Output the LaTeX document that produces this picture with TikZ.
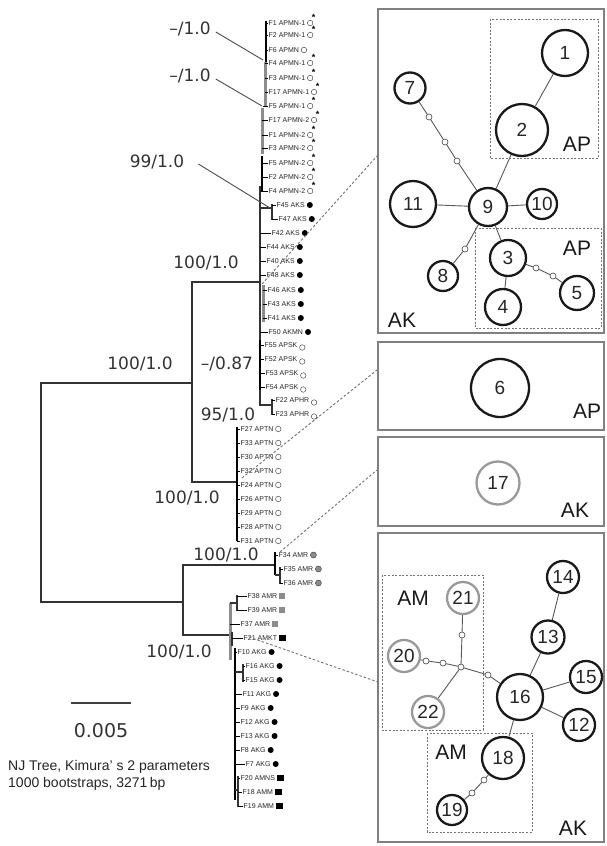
\documentclass[tikz,border=0pt]{standalone}
\usepackage{fontspec}
\setmainfont{Liberation Sans}
\newfontfamily\dvs{DejaVu Sans}
\usetikzlibrary{positioning}
\begin{document}
\begin{tikzpicture}[x=1pt,y=-1pt,
  treeline/.style={line width=1.3pt, draw=black!80},
  combk/.style={line width=2.4pt, draw=black},
  combg/.style={line width=3pt, draw=black!45},
  blab/.style={font=\dvs\fontsize{17}{17}\selectfont, text=black!80, inner sep=1pt},
  leaf/.style={font=\fontsize{7}{7}\selectfont, inner sep=0.5pt, anchor=west, text=black!85},
  oc/.style={circle, draw=black!70, line width=0.5pt, minimum size=5.5pt, inner sep=0pt},
  ocl/.style={oc, yshift=-2.5pt},
  oca/.style={oc, label={[inner sep=0pt, font=\fontsize{9}{9}\selectfont\bfseries]60:*}},
  bd/.style={circle, fill=black, minimum size=6pt, inner sep=0pt},
  gd/.style={circle, fill=black!45, draw=black!70, line width=0.5pt, minimum size=6pt, inner sep=0pt},
  gs/.style={rectangle, fill=black!45, minimum size=6pt, inner sep=0pt},
  bs/.style={rectangle, fill=black, minimum size=6.5pt, inner sep=0pt},
  ptr/.style={line width=0.9pt, draw=black!70},
  zoomline/.style={dash pattern=on 2.5pt off 2pt, line width=0.9pt, draw=black!55},
  panel/.style={draw=black!50, line width=1.8pt, minimum width=226pt, inner sep=0pt},
  grp/.style={draw=black!55, dash pattern=on 2pt off 1.6pt, line width=0.9pt},
  hap/.style={circle, draw=black!90, line width=2.3pt, inner sep=0pt, font=\fontsize{19}{19}\selectfont, text=black!85},
  haq/.style={hap, draw=black!40},
  mut/.style={circle, draw=black!75, line width=0.6pt, fill=white, minimum size=6pt, inner sep=0pt},
  edgeln/.style={line width=0.9pt, draw=black!65},
  plab/.style={font=\fontsize{21}{21}\selectfont, inner sep=0pt, text=black!90},
  captext/.style={font=\fontsize{14}{14}\selectfont, text=black!85, anchor=west, inner sep=0pt},
]
\useasboundingbox (0,0) rectangle (606,846);
\fill[white] (0,0) rectangle (606,846);

% ---------------- tree skeleton ----------------
\draw[treeline] (192,383) -- (41,383) -- (41,602) -- (183,602);
\draw[treeline] (260,282) -- (192,282) -- (192,482) -- (237,482);
\draw[treeline] (275,565) -- (183,565) -- (183,635) -- (230,635);
% top comb
\draw[combk] (266,21) -- (266,62);
\draw[combg] (265,62) -- (265,106);
\draw[combg] (262,108) -- (262,154);
\draw[combk] (262,156) -- (262,192);
\draw[treeline] (260,186) -- (260,405) -- (272,405);
\draw[combg] (263,285) -- (263,322);
\draw[combk] (260,340) -- (260,390);
\draw[treeline] (260,208) -- (272,208);
\draw[treeline] (272,204) -- (272,220);
\draw[treeline] (272,399) -- (272,415);
% APTN comb
\draw[combk] (237,427) -- (237,541);
% AMR fork
\draw[combk] (275,552) -- (275,575);
\draw[treeline] (275,575) -- (280,575);
\draw[treeline] (280,567) -- (280,584);
% bottom comb
\draw[combg] (230,603) -- (230,660);
\draw[treeline] (230,603) -- (237,603);
\draw[treeline] (237,595) -- (237,611);
\draw[treeline] (232,632) -- (232,646);
\draw[combk] (235,648) -- (235,800);
\draw[treeline] (235,672) -- (243,672);
\draw[treeline] (243,664) -- (243,682);
\draw[treeline] (235,790) -- (238,790);
\draw[treeline] (238,776) -- (238,807);

% ---------------- leaves ----------------
\foreach \y/\c/\x/\t/\m [count=\i] in {
23/266/268/F1 APMN-1/oca,
35/266/268/F2 APMN-1/oca,
50/266/268/F6 APMN/oc,
63/265/268/F4 APMN-1/oca,
78/265/268/F3 APMN-1/oca,
92/265/268/F17 APMN-1/oca,
106/263/268/F5 APMN-1/oca,
120/262/268/F17 APMN-2/oca,
135/262/268/F1 APMN-2/oca,
148/262/268/F3 APMN-2/oca,
163/262/268/F5 APMN-2/oca,
177/262/268/F2 APMN-2/oca,
191/262/268/F4 APMN-2/oca,
205/272/276/F45 AKS/bd,
219/272/278/F47 AKS/bd,
233/260/271/F42 AKS/bd,
247/260/266/F44 AKS/bd,
261/260/266/F40 AKS/bd,
275/260/266/F48 AKS/bd,
290/263/267/F46 AKS/bd,
304/263/267/F43 AKS/bd,
318/263/267/F41 AKS/bd,
332/260/268/F50 AKMN/bd,
345/260/264/F55 APSK/ocl,
359/260/264/F52 APSK/ocl,
373/260/265/F53 APSK/ocl,
387/260/265/F54 APSK/ocl,
400/272/275/F22 APHR/ocl,
414/272/275/F23 APHR/ocl,
429/237/240/F27 APTN/oc,
443/237/240/F33 APTN/oc,
457/237/240/F30 APTN/oc,
471/237/240/F32 APTN/oc,
485/237/240/F24 APTN/oc,
499/237/240/F26 APTN/oc,
513/237/240/F29 APTN/oc,
527/237/240/F28 APTN/oc,
541/237/240/F31 APTN/oc,
555/275/278/F34 AMR/gd,
569/280/283/F35 AMR/gd,
583/280/283/F36 AMR/gd,
596/237/247/F38 AMR/gs,
610/237/247/F39 AMR/gs,
624/230/240/F37 AMR/gs,
638/232/243/F21 AMKT/bs,
652/235/237/F10 AKG/bd,
666/243/245/F16 AKG/bd,
680/243/245/F15 AKG/bd,
694/235/242/F11 AKG/bd,
708/235/240/F9 AKG/bd,
722/235/240/F12 AKG/bd,
736/235/240/F13 AKG/bd,
750/235/240/F8 AKG/bd,
764/235/245/F7 AKG/bd,
778/238/240/F20 AMNS/bs,
792/238/242/F18 AMM/bs,
806/238/243/F19 AMM/bs}{
  \node[leaf] (L\i) at (\x,\y) {\t};
  \edef\tmp{\noexpand\node[\m, right=1.2pt of L\i] (M\i) {};}\tmp
  \draw[line width=0.7pt] (\c,\y) -- (L\i.west);
}

% ---------------- support labels ----------------
\node[blab] (t1) at (190,29) {–/1.0};
\node[blab] (t2) at (190,76) {–/1.0};
\node[blab] (t3) at (157,162) {99/1.0};
\node[blab] (t4) at (206,263) {100/1.0};
\node[blab] (t5) at (140,364) {100/1.0};
\node[blab] (t6) at (227,364) {–/0.87};
\node[blab] (t7) at (228,415) {95/1.0};
\node[blab] (t8) at (187,498) {100/1.0};
\node[blab] (t9) at (226,555) {100/1.0};
\node[blab] (t10) at (179,652) {100/1.0};
\coordinate (p1) at (263,60);
\coordinate (p2) at (262,106);
\coordinate (p3) at (270,208);
\draw[ptr] ([xshift=4pt,yshift=-3pt]t1.east) -- (p1);
\draw[ptr] ([xshift=4pt,yshift=-3pt]t2.east) -- (p2);
\draw[ptr] ([xshift=13pt,yshift=-2pt]t3.east) -- (p3);

% scale bar and caption
\coordinate (s1) at (71,703);
\coordinate (s2) at (131,703);
\draw[line width=1.8pt, draw=black!75] (s1) -- (s2);
\node[font=\dvs\fontsize{19}{19}\selectfont, text=black!80] (sc) at (101,731) {0.005};
\node[captext] (c1) at (8,767) {NJ Tree, Kimura’ s 2 parameters};
\node[captext] (c2) at (8,784) {1000 bootstraps, 3271\,bp};

% ---------------- panels ----------------
\node[panel, minimum height=324pt] (P1) at (491,171) {};
\node[panel, minimum height=88pt] (P2) at (491,386) {};
\node[panel, minimum height=89pt] (P3) at (491,481.5) {};
\node[panel, minimum height=309pt] (P4) at (491,687.5) {};

% zoom connectors
\coordinate (d1s) at (262,284); \coordinate (d1e) at (378,155);
\coordinate (d2s) at (242,478); \coordinate (d2e) at (377,370);
\coordinate (d3s) at (280,552); \coordinate (d3e) at (377,470);
\coordinate (d4s) at (249,637); \coordinate (d4e) at (378,682);
\draw[zoomline] (d1s) -- (d1e);
\draw[zoomline] (d2s) -- (d2e);
\draw[zoomline] (d3s) -- (d3e);
\draw[zoomline] (d4s) -- (d4e);

% ---------------- panel 1 ----------------
\draw[grp] (490,19) rectangle (598,158);
\draw[grp] (475,228) rectangle (601,328);
\node[hap, minimum size=46pt] (n1) at (565,53) {1};
\node[hap, minimum size=52pt] (n2) at (522,130) {2};
\node[hap, minimum size=31pt] (n7) at (410,88) {7};
\node[hap, minimum size=38pt] (n9) at (488,207) {9};
\node[hap, minimum size=46pt] (n11) at (413,204) {11};
\node[hap, minimum size=30pt] (n10) at (542,204) {10};
\node[hap, minimum size=36pt] (n3) at (508,258) {3};
\node[hap, minimum size=36pt] (n4) at (503,307) {4};
\node[hap, minimum size=34pt] (n5) at (577,293) {5};
\node[hap, minimum size=30pt] (n8) at (443,276) {8};
\node[mut] (m1) at (429,117) {};
\node[mut] (m2) at (445,142) {};
\node[mut] (m3) at (457,161) {};
\node[mut] (m4) at (536,268) {};
\node[mut] (m5) at (553,276) {};
\node[mut] (m6) at (465,249) {};
\draw[edgeln] (n1) -- (n2);
\draw[edgeln] (n2) -- (n9);
\draw[edgeln] (n7) -- (m1) -- (m2) -- (m3) -- (n9);
\draw[edgeln] (n11) -- (n9);
\draw[edgeln] (n9) -- (n10);
\draw[edgeln] (n9) -- (n3);
\draw[edgeln] (n3) -- (n4);
\draw[edgeln] (n3) -- (m4) -- (m5) -- (n5);
\draw[edgeln] (n9) -- (m6) -- (n8);
\node[plab] (a1) at (577,144) {AP};
\node[plab] (a2) at (577,248) {AP};
\node[plab] (a3) at (402,320) {AK};

% ---------------- panel 2 ----------------
\node[hap, minimum size=58pt] (n6) at (500,388) {6};
\node[plab] (a4) at (587,411) {AP};

% ---------------- panel 3 ----------------
\node[haq, minimum size=43pt] (n17) at (498,483) {17};
\node[plab] (a5) at (575,510) {AK};

% ---------------- panel 4 ----------------
\draw[grp] (382,575) rectangle (483,730);
\draw[grp] (427,733) rectangle (532,832);
\node[haq, minimum size=32pt] (n21) at (463,598) {21};
\node[haq, minimum size=32pt] (n20) at (404,656) {20};
\node[haq, minimum size=32pt] (n22) at (428,712) {22};
\node[hap, minimum size=46pt] (n16) at (520,697) {16};
\node[hap, minimum size=33pt] (n13) at (548,637) {13};
\node[hap, minimum size=32pt] (n14) at (563,577) {14};
\node[hap, minimum size=32pt] (n15) at (586,677) {15};
\node[hap, minimum size=32pt] (n12) at (579,725) {12};
\node[hap, minimum size=42pt] (n18) at (503,758) {18};
\node[hap, minimum size=30pt] (n19) at (452,810) {19};
\node[mut] (m7) at (462,635) {};
\node[mut] (jn) at (461,667) {};
\node[mut] (m8) at (426,661) {};
\node[mut] (m9) at (443,663) {};
\node[mut] (m10) at (488,675) {};
\node[mut] (m11) at (484,780) {};
\node[mut] (m12) at (472,793) {};
\draw[edgeln] (n21) -- (m7) -- (jn);
\draw[edgeln] (n20) -- (m8) -- (m9) -- (jn);
\draw[edgeln] (jn) -- (n22);
\draw[edgeln] (jn) -- (m10) -- (n16);
\draw[edgeln] (n16) -- (n13) -- (n14);
\draw[edgeln] (n16) -- (n15);
\draw[edgeln] (n16) -- (n12);
\draw[edgeln] (n16) -- (n18) -- (m11) -- (m12) -- (n19);
\node[plab] (a6) at (413,598) {AM};
\node[plab] (a7) at (451,752) {AM};
\node[plab] (a8) at (573,828) {AK};
\end{tikzpicture}
\end{document}
